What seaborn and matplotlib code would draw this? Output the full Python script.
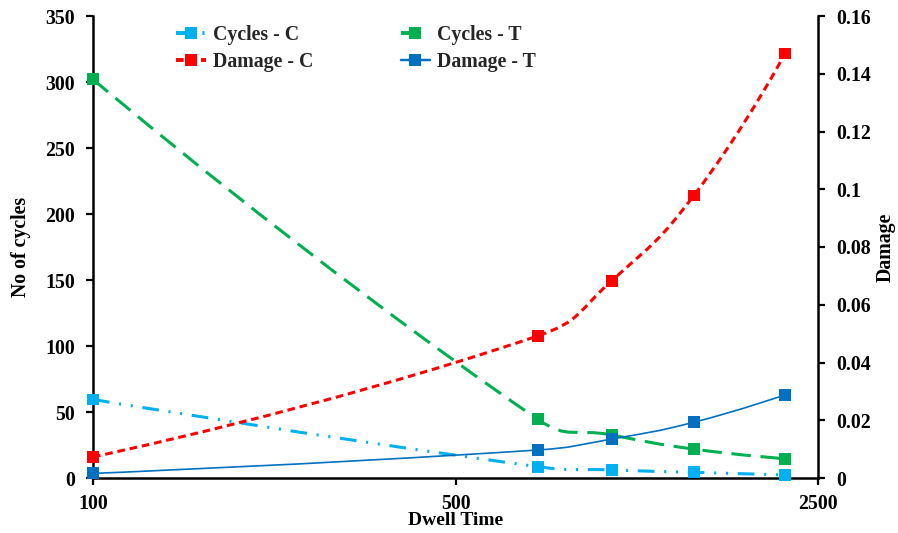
import numpy as np
import matplotlib
matplotlib.use("Agg")
import matplotlib.pyplot as plt
import seaborn as sns
import pandas as pd
from matplotlib.path import Path
from matplotlib.patches import PathPatch
from matplotlib.lines import Line2D
from matplotlib.ticker import FixedLocator, FixedFormatter, NullLocator

# ---- data ----
dwell_time = [100, 720, 1000, 1440, 2160]
cycles_c = [59.5, 8.6, 6.1, 4.3, 2.3]
cycles_t = [302, 44.5, 32.6, 21.9, 14.6]
damage_c = [0.0073, 0.0492, 0.0683, 0.0978, 0.147]
damage_t = [0.0016, 0.0097, 0.0135, 0.0193, 0.0288]

left_ticks = [0, 50, 100, 150, 200, 250, 300, 350]
right_ticks = [0, 0.02, 0.04, 0.06, 0.08, 0.1, 0.12, 0.14, 0.16]
right_labels = ["0", "0.02", "0.04", "0.06", "0.08", "0.1", "0.12", "0.14", "0.16"]
x_ticks = [100, 500, 2500]

c_lblue = "#00B0F0"
c_green = "#00B050"
c_red = "#FF0000"
c_blue = "#0070C0"

sns.set_theme(style="white")
plt.rcParams["font.family"] = ["Liberation Serif", "DejaVu Serif"]
plt.rcParams["font.weight"] = "bold"
plt.rcParams["lines.scale_dashes"] = False

FS = 14.3

fig = plt.figure(figsize=(8.98, 5.33), dpi=100)
W, H = 898, 533
ax = fig.add_axes([93 / W, 1 - 478 / H, (818 - 93) / W, (478 - 16) / H])
ax2 = ax.twinx()

for a in (ax, ax2):
    a.set_xscale("log")
    a.set_xlim(100, 2500)
    a.patch.set_visible(False)
ax.set_ylim(0, 350)
ax2.set_ylim(0, 0.16)

styles = {
    "Cycles - C": dict(color=c_lblue, lw=2.2, dashes=(12, 7, 1.5, 7, 1.5, 7)),
    "Cycles - T": dict(color=c_green, lw=2.2, dashes=(14, 7)),
    "Damage - C": dict(color=c_red, lw=2.2, dashes=(5.5, 3.5)),
    "Damage - T": dict(color=c_blue, lw=1.2, dashes=None),
}


def smooth_path(a, xs, ys, t=0.5):
    disp = a.transData.transform(np.column_stack([xs, ys]))
    n = len(disp)
    before = [disp[i].copy() for i in range(n)]
    after = [disp[i].copy() for i in range(n)]
    for i in range(1, n - 1):
        p0, p1, p2 = disp[i - 1], disp[i], disp[i + 1]
        d01 = np.hypot(*(p1 - p0))
        d12 = np.hypot(*(p2 - p1))
        fa = t * d01 / (d01 + d12)
        fb = t * d12 / (d01 + d12)
        before[i] = p1 - fa * (p2 - p0)
        after[i] = p1 + fb * (p2 - p0)
    verts = [disp[0]]
    codes = [Path.MOVETO]
    for i in range(n - 1):
        verts += [after[i], before[i + 1], disp[i + 1]]
        codes += [Path.CURVE4] * 3
    verts = a.transData.inverted().transform(np.array(verts))
    return Path(verts, codes)


series = [
    (ax, "Cycles - C", cycles_c),
    (ax, "Cycles - T", cycles_t),
    (ax2, "Damage - C", damage_c),
    (ax2, "Damage - T", damage_t),
]

for a, name, vals in series:
    st = styles[name]
    path = smooth_path(a, dwell_time, vals)
    patch = PathPatch(path, facecolor="none", edgecolor=st["color"], lw=st["lw"],
                      capstyle="butt", zorder=2)
    if st["dashes"] is not None:
        patch.set_linestyle((0, st["dashes"]))
    a.add_patch(patch)
    df = pd.DataFrame({"x": dwell_time, "y": vals})
    sns.scatterplot(data=df, x="x", y="y", ax=a, marker="s", s=72,
                    color=st["color"], edgecolor="none", linewidth=0,
                    clip_on=False, zorder=3, legend=False)

for a in (ax, ax2):
    a.set_xscale("log")
    a.set_xlim(100, 2500)
    a.xaxis.set_major_locator(FixedLocator(x_ticks))
    a.xaxis.set_major_formatter(FixedFormatter([str(t) for t in x_ticks]))
    a.xaxis.set_minor_locator(NullLocator())
ax.set_ylim(0, 350)
ax2.set_ylim(0, 0.16)

ax.set_yticks(left_ticks)
ax.set_yticklabels([str(t) for t in left_ticks])
ax2.set_yticks(right_ticks)
ax2.set_yticklabels(right_labels)

for a in (ax, ax2):
    for s in a.spines.values():
        s.set_visible(False)
ax.spines["left"].set_visible(True)
ax.spines["bottom"].set_visible(True)
ax2.spines["right"].set_visible(True)
for s in (ax.spines["left"], ax.spines["bottom"], ax2.spines["right"]):
    s.set_color("black")
    s.set_linewidth(1.8)

ax.tick_params(axis="y", which="major", direction="out", length=5, width=1.6,
               colors="black", labelsize=FS, pad=8, left=True)
ax.tick_params(axis="x", which="major", direction="out", length=5, width=1.6,
               colors="black", labelsize=FS, pad=6.3, bottom=True)
ax2.tick_params(axis="y", which="major", direction="out", length=5, width=1.6,
                colors="black", labelsize=FS, pad=8, right=True)
ax2.tick_params(axis="x", bottom=False, labelbottom=False)

for lab in ax.get_yticklabels() + ax.get_xticklabels() + ax2.get_yticklabels():
    lab.set_fontweight("bold")

ax.set_xlabel("Dwell Time", fontsize=14, fontweight="bold", color="black")
ax.xaxis.set_label_coords(0.5, -0.0735)
ax.set_ylabel("No of cycles", fontsize=FS, fontweight="bold", color="black")
ax.yaxis.set_label_coords(-0.085, 0.5)
ax2.set_ylabel("Damage", fontsize=FS, fontweight="bold", color="black", rotation=90)
ax2.yaxis.set_label_coords(1.080, 0.5)

handles = []
order = ["Cycles - C", "Damage - C", "Cycles - T", "Damage - T"]
for name in order:
    st = styles[name]
    kw = {}
    if st["dashes"] is not None:
        kw["dashes"] = st["dashes"]
    h = Line2D([0], [0], color=st["color"], lw=st["lw"] + 0.6, marker="s",
               markersize=8.5, markeredgewidth=0, **kw)
    handles.append(h)
fig.legend(handles, order, loc="upper left",
           bbox_to_anchor=(176 / W, 1 - 25 / H),
           ncol=2, frameon=False, handlelength=1.5,
           columnspacing=4.4, labelspacing=0.36, handletextpad=0.35,
           borderpad=0, borderaxespad=0,
           prop={"weight": "bold", "size": FS})

fig.savefig("out.png", dpi=100, facecolor="white")
